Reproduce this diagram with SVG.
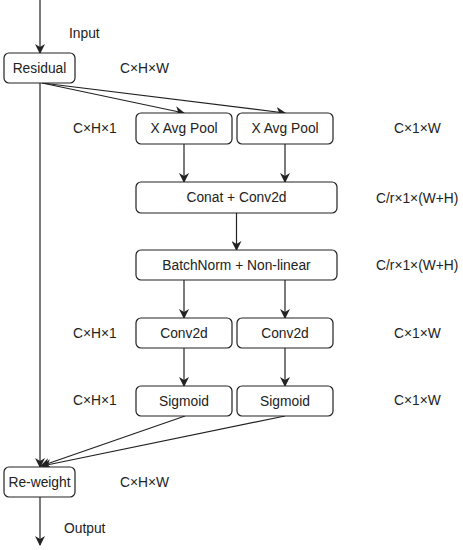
<svg xmlns="http://www.w3.org/2000/svg" width="463" height="550" viewBox="0 0 463 550">
<style>
.box{fill:#fff;stroke:#222;stroke-width:1.2}
.t{font-family:"Liberation Sans",Arial,sans-serif;font-size:13.8px;fill:#222;dominant-baseline:central}
.c{text-anchor:middle}
.e{fill:none;stroke:#222;stroke-width:1.2;marker-end:url(#a)}
</style>
<defs>
<marker id="a" viewBox="0 0 10 10" refX="9" refY="5" markerWidth="10" markerHeight="10" markerUnits="userSpaceOnUse" orient="auto">
<path d="M0,0 L10,5 L0,10 L3,5 Z" fill="#222"/>
</marker>
</defs>
<g id="connectors">
<path class="e" d="M40,0 L40,53"/>
<path class="e" d="M40,83 L40,467"/>
<path class="e" d="M42,83 L184,113"/>
<path class="e" d="M42,83 L285,113"/>
<path class="e" d="M184,144 L184,182"/>
<path class="e" d="M285,144 L285,182"/>
<path class="e" d="M236.5,213 L236.5,250"/>
<path class="e" d="M184,280 L184,318"/>
<path class="e" d="M285,280 L285,318"/>
<path class="e" d="M184,348 L184,386"/>
<path class="e" d="M285,348 L285,386"/>
<path class="e" d="M185,416 L41,466"/>
<path class="e" d="M285,416 L42,466"/>
<path class="e" d="M40,497 L40,545"/>
</g>
<g id="residual"><rect class="box" x="4" y="53" width="71" height="30" rx="5"/><text class="t c" x="39.5" y="68">Residual</text></g>
<g id="xpool1"><rect class="box" x="136" y="113" width="96" height="31" rx="5"/><text class="t c" x="184" y="128.5">X Avg Pool</text></g>
<g id="xpool2"><rect class="box" x="237" y="113" width="96" height="31" rx="5"/><text class="t c" x="285" y="128.5">X Avg Pool</text></g>
<g id="concat"><rect class="box" x="136" y="182" width="201" height="31" rx="5"/><text class="t c" x="236.5" y="197.5">Conat + Conv2d</text></g>
<g id="bn"><rect class="box" x="136" y="250" width="201" height="30" rx="5"/><text class="t c" x="236.5" y="265">BatchNorm + Non-linear</text></g>
<g id="conv1"><rect class="box" x="136" y="318" width="96" height="30" rx="5"/><text class="t c" x="184" y="333">Conv2d</text></g>
<g id="conv2"><rect class="box" x="237" y="318" width="96" height="30" rx="5"/><text class="t c" x="285" y="333">Conv2d</text></g>
<g id="sig1"><rect class="box" x="136" y="386" width="96" height="30" rx="5"/><text class="t c" x="184" y="401">Sigmoid</text></g>
<g id="sig2"><rect class="box" x="237" y="386" width="96" height="30" rx="5"/><text class="t c" x="285" y="401">Sigmoid</text></g>
<g id="reweight"><rect class="box" x="4" y="467" width="71" height="30" rx="5"/><text class="t c" x="39.5" y="482">Re-weight</text></g>
<g id="labels">
<text class="t" x="69" y="33">Input</text>
<text class="t" x="120" y="68">C×H×W</text>
<text class="t" x="73" y="128">C×H×1</text>
<text class="t" x="394" y="128">C×1×W</text>
<text class="t" x="376" y="198">C/r×1×(W+H)</text>
<text class="t" x="376" y="265">C/r×1×(W+H)</text>
<text class="t" x="73" y="333">C×H×1</text>
<text class="t" x="394" y="333">C×1×W</text>
<text class="t" x="73" y="400">C×H×1</text>
<text class="t" x="394" y="400">C×1×W</text>
<text class="t" x="120" y="482">C×H×W</text>
<text class="t" x="64" y="528">Output</text>
</g>
</svg>
